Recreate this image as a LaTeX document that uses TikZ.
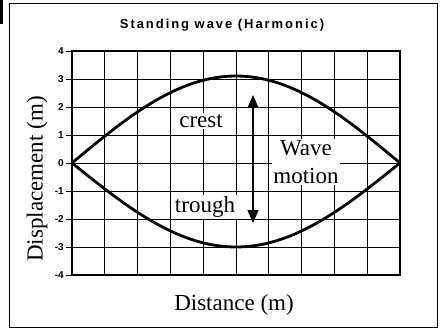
\documentclass[tikz,border=0pt]{standalone}
\usepackage{fontspec}
\setmainfont{Liberation Serif}
\newfontfamily\titlefont[LetterSpace=15]{Liberation Sans}
\newfontfamily\tickfont{Liberation Sans}
\usetikzlibrary{arrows.meta}
\begin{document}
\begin{tikzpicture}[x=1pt,y=-1pt,
  gridline/.style={line width=0.7pt},
  wave/.style={line width=2.8pt,line join=round},
  lbl/.style={font=\fontsize{23}{28}\selectfont, fill=white, inner sep=1.5pt},
  ticklbl/.style={font=\tickfont\bfseries\fontsize{10}{11}\selectfont, anchor=east, inner sep=0pt},
  motionarrow/.style={line width=1.2pt, {Triangle[width=11pt,length=13pt]}-{Triangle[width=11pt,length=13pt]}}]
\useasboundingbox (0,0) rectangle (443,331);
\fill[white] (0,0) rectangle (443,331);
\draw[line width=1pt] (9,4) rectangle (437,327);
\fill (0,0) rectangle (2.5,24);
% grid
\foreach \k in {0,...,10} \draw[gridline] ({72+32.8*\k},51) -- ({72+32.8*\k},275);
\foreach \k in {0,...,8} \draw[gridline] (72,{51+28*\k}) -- (400,{51+28*\k});
\draw[line width=1.1pt] (72,51) rectangle (400,275);
% ticks
\foreach \v [count=\i from 0] in {4,3,2,1,0,-1,-2,-3,-4} {
  \draw[gridline] (66,{51+28*\i}) -- (72,{51+28*\i});
  \node[ticklbl] (t\i) at (64,{51+28*\i}) {\v};
}
% waves
\draw[wave] plot[variable=\t, domain=0:180, samples=60] ({72+\t/180*328},{163-87*sin(\t)});
\draw[wave] plot[variable=\t, domain=0:180, samples=60] ({72+\t/180*328},{163+84*sin(\t)});
% labels
\node[lbl] (crest) at (201,121) {crest};
\node[lbl] (trough) at (205,207) {trough};
\node[lbl, align=center] (motion) at (306,162) {Wave\\motion};
\coordinate (atop) at (253,95);
\coordinate (abot) at (253,223);
\draw[motionarrow] (atop) -- (abot);
% title and axis labels
\node (title) at (222,25) {\titlefont\bfseries\fontsize{13}{15}\selectfont Standing wave (Harmonic)};
\node[rotate=90, font=\fontsize{23}{28}\selectfont] (ylab) at (37,179) {Displacement (m)};
\node[font=\fontsize{23}{28}\selectfont] (xlab) at (234,305) {Distance (m)};
\end{tikzpicture}
\end{document}
